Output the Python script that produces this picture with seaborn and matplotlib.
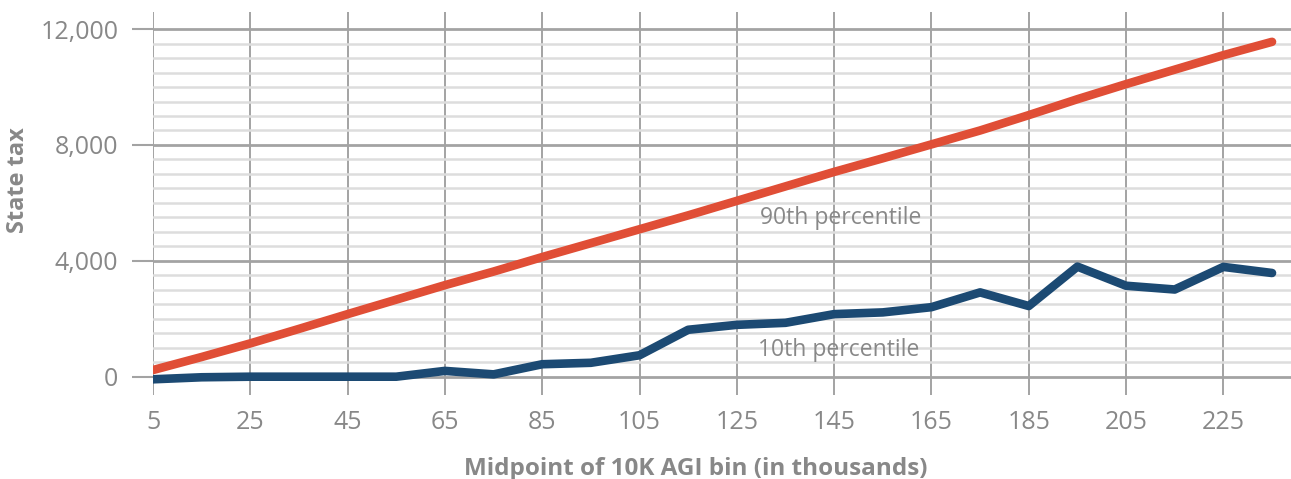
import matplotlib
matplotlib.use("Agg")
import matplotlib.pyplot as plt
import matplotlib.ticker as mticker
import pandas as pd
import seaborn as sns

# Midpoints of the 10K AGI bins (in thousands)
agi_mid = [5, 15, 25, 35, 45, 55, 65, 75, 85, 95, 105, 115,
           125, 135, 145, 155, 165, 175, 185, 195, 205, 215, 225, 235]

p90_tax = [230, 680, 1150, 1650, 2160, 2660, 3160, 3630, 4130, 4610, 5090, 5570,
           6070, 6570, 7070, 7540, 8020, 8500, 9030, 9580, 10100, 10600, 11100, 11560]

p10_tax = [-90, -20, 0, 0, 0, 0, 200, 80, 430, 480, 740, 1620,
           1790, 1860, 2160, 2220, 2400, 2910, 2440, 3800, 3140, 3010, 3790, 3580]

x_ticks = [5, 25, 45, 65, 85, 105, 125, 145, 165, 185, 205, 225]
y_ticks = [0, 4000, 8000, 12000]

RED = "#E04E36"
BLUE = "#1C4A73"
GRID = "#a3a3a3"
MINOR = "#dddddd"
TEXT = "#888888"

df = pd.concat([
    pd.DataFrame({"agi": agi_mid, "tax": p90_tax, "series": "90th percentile"}),
    pd.DataFrame({"agi": agi_mid, "tax": p10_tax, "series": "10th percentile"}),
])

sns.set_theme(style="white")
plt.rcParams["font.family"] = ["Open Sans", "DejaVu Sans"]

fig = plt.figure(figsize=(12.91, 4.79), dpi=100)
ax = fig.add_axes([153 / 1291, 1 - 395 / 479, 1 - 153 / 1291, 383 / 479])

sns.lineplot(data=df, x="agi", y="tax", hue="series",
             palette={"90th percentile": RED, "10th percentile": BLUE},
             linewidth=6.2, legend=False, ax=ax,
             solid_capstyle="round", solid_joinstyle="round", zorder=3)

ax.set_xlim(5, 238.9)
ax.set_ylim(-632, 12590)

ax.xaxis.set_major_locator(mticker.FixedLocator(x_ticks))
ax.yaxis.set_major_locator(mticker.FixedLocator(y_ticks))
ax.yaxis.set_minor_locator(mticker.FixedLocator(
    [v for v in range(500, 12000, 500) if v % 4000 != 0]))
ax.yaxis.set_major_formatter(mticker.FuncFormatter(lambda v, p: f"{int(v):,}"))

ax.grid(which="major", axis="x", color=GRID, linewidth=1.4, zorder=1)
ax.grid(which="major", axis="y", color=GRID, linewidth=2, zorder=1)
ax.grid(which="minor", axis="y", color=MINOR, linewidth=1.8, zorder=0)

for s in ax.spines.values():
    s.set_visible(False)

ax.tick_params(axis="y", which="major", length=15, width=1.5, color=GRID,
               direction="out", pad=10, labelsize=18, labelcolor=TEXT, left=True)
ax.tick_params(axis="y", which="minor", length=0)
ax.tick_params(axis="x", length=0, pad=11, labelsize=18, labelcolor=TEXT)

ax.set_xlabel("Midpoint of 10K AGI bin (in thousands)", fontsize=17.5,
              fontweight="bold", color=TEXT)
ax.xaxis.set_label_coords(0.477, -0.162)
ax.set_ylabel("State tax", fontsize=17, fontweight="bold", color=TEXT)
ax.yaxis.label.set_va("center")
ax.yaxis.set_label_coords(-0.1186, 0.561)

ax.text(129.7, 5470, "90th percentile", fontsize=16.5, color=TEXT,
        ha="left", va="center", zorder=4)
ax.text(129.3, 920, "10th percentile", fontsize=16.5, color=TEXT,
        ha="left", va="center", zorder=4)

fig.savefig("out.png", dpi=100)
